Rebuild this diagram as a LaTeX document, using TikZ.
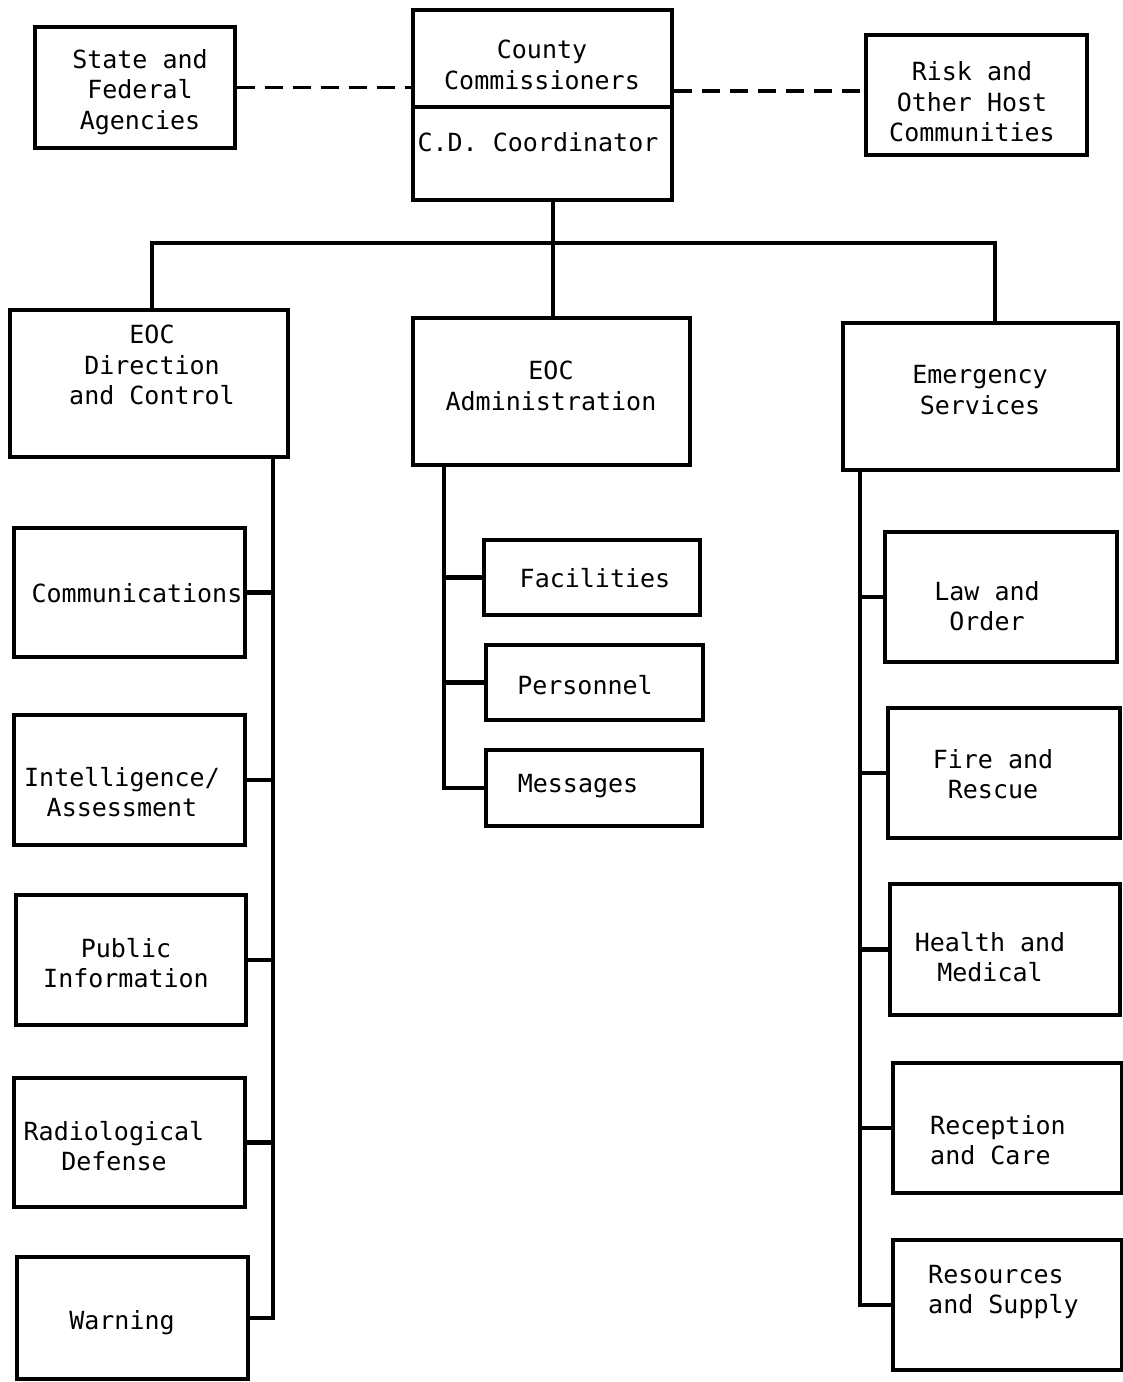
\documentclass[tikz,border=0pt]{standalone}
\usepackage{fontspec}
\newfontfamily\twfont{DejaVu Sans Mono}
\usetikzlibrary{fit}
\tikzset{
  box/.style={draw, line width=3.6pt, inner sep=0pt},
  lbl/.style={font=\twfont\fontsize{25}{30.5}\selectfont, align=center, inner sep=0pt},
  lbll/.style={lbl, align=left},
  conn/.style={line width=4.4pt},
  dashconn/.style={line width=3.4pt, dash pattern=on 18pt off 10pt}
}
\begin{document}
\begin{tikzpicture}[x=1pt,y=-1pt]
\useasboundingbox (0,0) rectangle (1123,1382);
% top row
\node[box, fit={(35,27) (235,148)}] (state) {};
\node[lbl] (stateT) at (140,92) {State and\\Federal\\Agencies};
\node[box, fit={(413,10) (672,107)}] (countyA) {};
\node[box, fit={(413,107) (672,200)}] (countyB) {};
\node[lbl] (countyT) at (542,65) {County\\Commissioners};
\node[lbl] (cdT) at (538,142) {C.D. Coordinator};
\node[box, fit={(866,35) (1087,155)}] (risk) {};
\node[lbl] (riskT) at (972,102) {Risk and\\Other Host\\Communities};
\draw[dashconn] (state.east) -- (state.east -| countyA.west);
\coordinate (rdash) at (0,91);
\draw[dashconn] (countyA.east |- rdash) -- (risk.west |- rdash);
% second row
\node[box, fit={(10,310) (288,457)}] (dc) {};
\node[lbl] (dcT) at (152,365) {EOC\\Direction\\and Control};
\node[box, fit={(413,318) (690,465)}] (admin) {};
\node[lbl] (adminT) at (551,386) {EOC\\Administration};
\node[box, fit={(843,323) (1118,470)}] (es) {};
\node[lbl] (esT) at (980,390) {Emergency\\Services};
\coordinate (barL) at (152,243);
\coordinate (barM) at (553,243);
\coordinate (barR) at (995,243);
\draw[conn] (barL |- dc.north) -- (barL) -- (barR) -- (barR |- es.north);
\draw[conn] (barM |- countyB.south) -- (barM |- admin.north);
% left column
\node[box, fit={(14,528) (245,657)}] (comm) {};
\node[lbl] (commT) at (137,593) {Communications};
\node[box, fit={(14,715) (245,845)}] (intel) {};
\node[lbl] (intelT) at (122,792) {Intelligence/\\Assessment};
\node[box, fit={(16,895) (246,1025)}] (pub) {};
\node[lbl] (pubT) at (126,963) {Public\\Information};
\node[box, fit={(14,1078) (245,1207)}] (radio) {};
\node[lbl] (radioT) at (114,1146) {Radiological\\Defense};
\node[box, fit={(17,1257) (248,1379)}] (warn) {};
\node[lbl] (warnT) at (122,1323) {Warning};
\coordinate (lsp) at (273,0);
\draw[conn] (lsp |- dc.south) -- (lsp |- warn.east) -- (warn.east);
\foreach \n in {comm,intel,pub,radio}
  \draw[conn] (\n.east) -- (\n.east -| lsp);
% middle column
\node[box, fit={(484,540) (700,615)}] (fac) {};
\node[lbl] (facT) at (595,578) {Facilities};
\node[box, fit={(486,645) (703,720)}] (pers) {};
\node[lbl] (persT) at (585,685) {Personnel};
\node[box, fit={(486,750) (702,826)}] (msg) {};
\node[lbl] (msgT) at (578,786) {Messages};
\coordinate (msp) at (444,0);
\draw[conn] (msp |- admin.south) -- (msp |- msg.west) -- (msg.west);
\foreach \n in {fac,pers}
  \draw[conn] (\n.west) -- (\n.west -| msp);
% right column
\node[box, fit={(885,532) (1117,662)}] (law) {};
\node[lbl] (lawT) at (987,606) {Law and\\Order};
\node[box, fit={(888,708) (1120,838)}] (fire) {};
\node[lbl] (fireT) at (993,774) {Fire and\\Rescue};
\node[box, fit={(890,884) (1120,1015)}] (health) {};
\node[lbl] (healthT) at (990,957) {Health and\\Medical};
\node[box, fit={(893,1063) (1122,1193)}] (rec) {};
\node[lbll, anchor=west] (recT) at (930,1140) {Reception\\and Care};
\node[box, fit={(893,1240) (1122,1370)}] (res) {};
\node[lbll, anchor=west] (resT) at (928,1292) {Resources\\and Supply};
\coordinate (rsp) at (860,0);
\draw[conn] (rsp |- es.south) -- (rsp |- res.west) -- (res.west);
\foreach \n in {law,fire,health,rec}
  \draw[conn] (\n.west) -- (\n.west -| rsp);
\end{tikzpicture}
\end{document}
